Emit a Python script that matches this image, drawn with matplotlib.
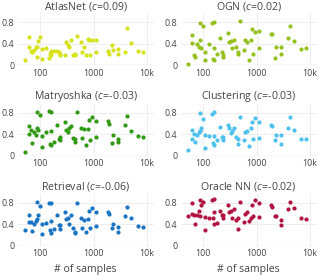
import numpy as np
import matplotlib
matplotlib.use('Agg')
import matplotlib.pyplot as plt

plt.rcParams['font.family'] = ['Open Sans', 'DejaVu Sans']
plt.rcParams['mathtext.fontset'] = 'custom'
plt.rcParams['mathtext.rm'] = 'Open Sans'
plt.rcParams['mathtext.it'] = 'Open Sans:italic'

# number of training samples per class (shared by all methods)
n_samples = [52, 62, 62, 68, 69, 76, 81, 86, 87, 92,
             100, 106, 106, 126, 145, 158, 150, 157, 157, 180,
             209, 219, 229, 234, 285, 302, 324, 339, 376, 407,
             442, 447, 479, 589, 610, 646, 724, 785, 822, 841,
             912, 1080, 1090, 1860, 1950, 2190, 2340, 2820, 2880, 3890,
             4170, 4900, 6760, 8510]

atlasnet = [0.10, 0.53, 0.34, 0.27, 0.24, 0.29, 0.35, 0.15, 0.35, 0.46,
            0.52, 0.12, 0.30, 0.32, 0.13, 0.24, 0.22, 0.19, 0.27, 0.27,
            0.27, 0.24, 0.19, 0.22, 0.19, 0.44, 0.38, 0.35, 0.47, 0.19,
            0.22, 0.19, 0.55, 0.44, 0.25, 0.35, 0.20, 0.49, 0.47, 0.20,
            0.47, 0.47, 0.25, 0.27, 0.22, 0.38, 0.29, 0.30, 0.21, 0.24,
            0.69, 0.42, 0.27, 0.25]

ogn = [0.02, 0.56, 0.41, 0.19, 0.15, 0.39, 0.35, 0.78, 0.48, 0.32,
       0.73, 0.10, 0.25, 0.39, 0.79, 0.81, 0.11, 0.10, 0.33, 0.22,
       0.50, 0.25, 0.19, 0.16, 0.61, 0.44, 0.46, 0.33, 0.48, 0.35,
       0.21, 0.25, 0.83, 0.29, 0.48, 0.44, 0.09, 0.48, 0.67, 0.22,
       0.63, 0.64, 0.32, 0.58, 0.58, 0.13, 0.35, 0.21, 0.35, 0.50,
       0.73, 0.46, 0.30, 0.32]

matryoshka = [0.07, 0.55, 0.40, 0.48, 0.23, 0.44, 0.39, 0.82, 0.51, 0.47,
              0.76, 0.15, 0.37, 0.44, 0.83, 0.82, 0.22, 0.19, 0.45, 0.26,
              0.57, 0.30, 0.34, 0.28, 0.62, 0.47, 0.43, 0.52, 0.55, 0.33,
              0.25, 0.30, 0.81, 0.52, 0.33, 0.50, 0.20, 0.49, 0.66, 0.28,
              0.71, 0.65, 0.34, 0.65, 0.59, 0.23, 0.39, 0.25, 0.31, 0.56,
              0.73, 0.45, 0.37, 0.34]

clustering = [0.10, 0.48, 0.31, 0.40, 0.25, 0.39, 0.43, 0.79, 0.45, 0.51,
              0.68, 0.14, 0.38, 0.36, 0.77, 0.81, 0.23, 0.19, 0.37, 0.28,
              0.54, 0.34, 0.28, 0.34, 0.57, 0.51, 0.42, 0.45, 0.51, 0.34,
              0.22, 0.30, 0.71, 0.28, 0.43, 0.46, 0.18, 0.51, 0.63, 0.30,
              0.70, 0.62, 0.33, 0.57, 0.55, 0.28, 0.39, 0.22, 0.39, 0.52,
              0.71, 0.48, 0.31, 0.31]

retrieval = [0.30, 0.58, 0.45, 0.45, 0.28, 0.40, 0.46, 0.81, 0.50, 0.57,
             0.74, 0.22, 0.40, 0.42, 0.80, 0.80, 0.30, 0.23, 0.46, 0.31,
             0.58, 0.39, 0.31, 0.39, 0.63, 0.50, 0.52, 0.41, 0.58, 0.33,
             0.26, 0.23, 0.79, 0.51, 0.33, 0.48, 0.26, 0.50, 0.65, 0.33,
             0.71, 0.63, 0.37, 0.63, 0.60, 0.33, 0.40, 0.25, 0.34, 0.56,
             0.73, 0.52, 0.36, 0.34]

oracle_nn = [0.56, 0.79, 0.60, 0.58, 0.40, 0.57, 0.65, 0.85, 0.56, 0.76,
             0.81, 0.30, 0.53, 0.51, 0.85, 0.87, 0.51, 0.40, 0.62, 0.42,
             0.65, 0.58, 0.57, 0.52, 0.76, 0.62, 0.65, 0.52, 0.68, 0.48,
             0.31, 0.51, 0.82, 0.45, 0.60, 0.62, 0.47, 0.51, 0.76, 0.56,
             0.85, 0.79, 0.53, 0.76, 0.73, 0.56, 0.55, 0.39, 0.48, 0.69,
             0.82, 0.71, 0.51, 0.49]

names = ['AtlasNet', 'OGN', 'Matryoshka', 'Clustering', 'Retrieval', 'Oracle NN']
corr = ['0.09', '0.02', '-0.03', '-0.03', '-0.06', '-0.02']
series = [atlasnet, ogn, matryoshka, clustering, retrieval, oracle_nn]
colors = ['#d5e21c', '#95c11f', '#2f9a12', '#4fc1ee', '#1a74c4', '#b0143f']

TXT = '#444444'
W, H = 324, 275
fig = plt.figure(figsize=(W / 100, H / 100), dpi=100)

lefts = [18, 181]
bottoms = [65.3, 155.5, 245.7]   # pixel row of the zero line, from top
ax_w, ax_h = 135.5, 52

for i, (name, c, ys, col) in enumerate(zip(names, corr, series, colors)):
    r, k = divmod(i, 2)
    ax = fig.add_axes([lefts[k] / W, 1 - bottoms[r] / H, ax_w / W, ax_h / H])
    ax.set_xscale('log')
    ax.set_xlim(38, 13200)
    ax.set_ylim(0, 0.97)
    ax.set_xticks([100, 1000, 10000])
    ax.set_xticklabels(['100', '1000', '10k'])
    ax.xaxis.set_minor_locator(matplotlib.ticker.NullLocator())
    ax.set_yticks([0, 0.4, 0.8])
    ax.set_yticklabels(['0', '0.4', '0.8'])
    ax.tick_params(length=0, labelsize=6.4, colors=TXT, pad=2.5)
    ax.grid(True, color='#eeeeee', lw=0.7)
    ax.set_axisbelow(True)
    for s in ax.spines.values():
        s.set_visible(False)
    ax.axhline(0, color='#888888', lw=0.8, zorder=1)
    ax.scatter(n_samples, ys, s=9, color=col, linewidths=0, zorder=3, clip_on=False)
    # italic "c=..." part; hyphen kept as a plain hyphen like the original
    cval = c.replace('-', '\u2010')
    ax.set_title(name + r' ($\mathit{c\!=\!' + cval + r'}$)', fontsize=7.6, color=TXT, pad=3)
    if r == 2:
        ax.set_xlabel('# of samples', fontsize=7.6, color=TXT, labelpad=4)

fig.savefig('out.png', dpi=100)
